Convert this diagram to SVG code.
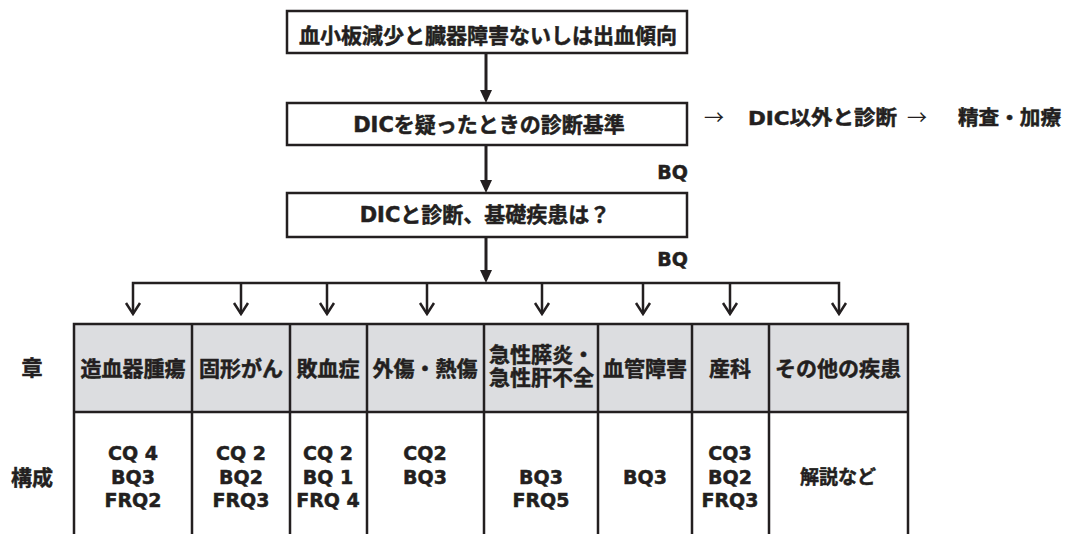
<svg xmlns="http://www.w3.org/2000/svg" width="1067" height="534" viewBox="0 0 1067 534">
<defs>
<style>
.t{font-family:"DejaVu Sans","Noto Sans CJK JP",sans-serif;font-weight:bold;fill:#231f20;stroke:#231f20;stroke-width:0.5}
.c{font-size:21px;text-anchor:middle}
.b{font-size:19px;text-anchor:middle}
.box{fill:#fff;stroke:#231f20;stroke-width:2.5}
.ln{fill:none;stroke:#231f20;stroke-width:2.5}
.main{fill:none;stroke:#231f20;stroke-width:3}
.ar{font-family:"Noto Sans CJK JP",sans-serif;font-size:20px;fill:#231f20;text-anchor:middle}
</style>
</defs>
<rect width="1067" height="534" fill="#fff"/>

<g id="connectors">
<line class="main" x1="486" y1="53" x2="486" y2="91"/>
<path d="M480,90 L492,90 L486,103 Z" fill="#231f20"/>
<line class="main" x1="486" y1="145" x2="486" y2="181"/>
<path d="M480,180 L492,180 L486,193 Z" fill="#231f20"/>
<line class="main" x1="486" y1="237" x2="486" y2="271"/>
<path d="M480,270 L492,270 L486,283 Z" fill="#231f20"/>
<path class="ln" d="M133,314 V283 H839 V314"/>
<path class="ln" d="M241,283 V314 M327,283 V314 M427,283 V314 M542,283 V314 M643,283 V314 M730,283 V314"/>
<path class="ln" d="M126,303 L133,314 L140,303 M234,303 L241,314 L248,303 M320,303 L327,314 L334,303 M420,303 L427,314 L434,303 M535,303 L542,314 L549,303 M636,303 L643,314 L650,303 M723,303 L730,314 L737,303 M832,303 L839,314 L846,303"/>
</g>

<g id="n1">
<rect class="box" x="287" y="11" width="400" height="42"/>
<text class="t c" x="488" y="43">血小板減少と臓器障害ないしは出血傾向</text>
</g>

<g id="n2">
<rect class="box" x="287" y="103" width="400" height="42"/>
<text class="t c" x="489" y="132">DICを疑ったときの診断基準</text>
<text class="t" x="688" y="179" font-size="19" text-anchor="end">BQ</text>
</g>

<g id="n-side">
<text class="ar" x="714" y="125">→</text>
<text class="t" x="748" y="125" font-size="20" textLength="149" lengthAdjust="spacingAndGlyphs">DIC以外と診断</text>
<text class="ar" x="917" y="125">→</text>
<text class="t" x="958" y="125" font-size="20" textLength="103" lengthAdjust="spacingAndGlyphs">精査・加療</text>
</g>

<g id="n3">
<rect class="box" x="287" y="193" width="400" height="44"/>
<text class="t c" x="485" y="222">DICと診断、基礎疾患は？</text>
<text class="t" x="688" y="266" font-size="19" text-anchor="end">BQ</text>
</g>

<g id="table">
<rect x="74" y="324" width="834" height="88" fill="#dcdde0"/>
<path class="ln" d="M74,534 V324 H908 V534 M74,412 H908 M192,324 V534 M290,324 V534 M367,324 V534 M484,324 V534 M598,324 V534 M692,324 V534 M769,324 V534"/>
<text class="t c" x="32" y="375">章</text>
<text class="t c" x="32" y="485">構成</text>

<text class="t c" x="133" y="376">造血器腫瘍</text>
<text class="t c" x="241" y="376">固形がん</text>
<text class="t c" x="328" y="376">敗血症</text>
<text class="t c" x="425" y="376">外傷・熱傷</text>
<text class="t" x="489" y="362" font-size="21">急性膵炎・</text>
<text class="t" x="489" y="385" font-size="21">急性肝不全</text>
<text class="t c" x="645" y="376">血管障害</text>
<text class="t c" x="730" y="376">産科</text>
<text class="t c" x="838" y="376">その他の疾患</text>

<text class="t b" x="133" y="460">CQ 4</text>
<text class="t b" x="133" y="483.5">BQ3</text>
<text class="t b" x="133" y="507">FRQ2</text>

<text class="t b" x="241" y="460">CQ 2</text>
<text class="t b" x="241" y="483.5">BQ2</text>
<text class="t b" x="241" y="507">FRQ3</text>

<text class="t b" x="328" y="460">CQ 2</text>
<text class="t b" x="328" y="483.5">BQ 1</text>
<text class="t b" x="328" y="507">FRQ 4</text>

<text class="t b" x="425" y="460">CQ2</text>
<text class="t b" x="425" y="483.5">BQ3</text>

<text class="t b" x="541" y="483.5">BQ3</text>
<text class="t b" x="541" y="507">FRQ5</text>

<text class="t b" x="645" y="483.5">BQ3</text>

<text class="t b" x="730" y="460">CQ3</text>
<text class="t b" x="730" y="483.5">BQ2</text>
<text class="t b" x="730" y="507">FRQ3</text>

<text class="t b" x="838" y="484">解説など</text>
</g>
</svg>
